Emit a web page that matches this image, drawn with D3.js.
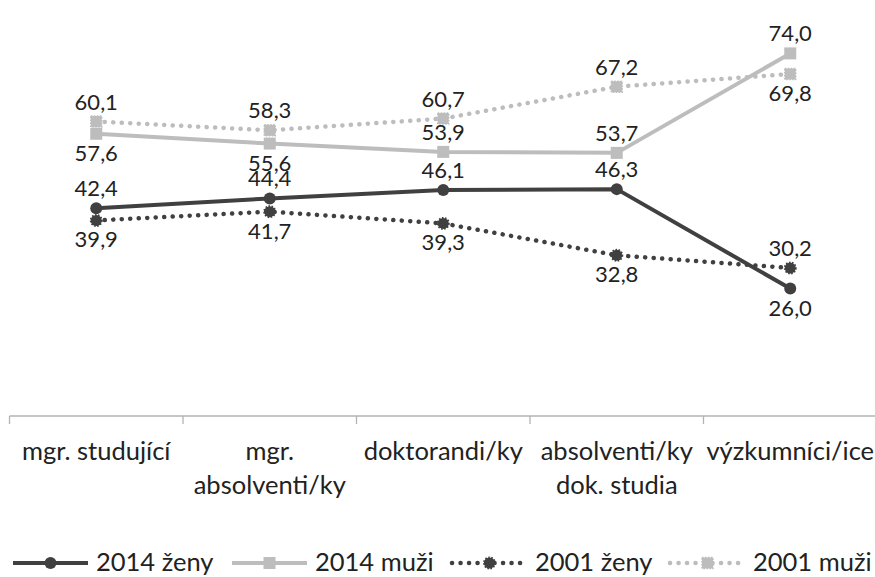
<!DOCTYPE html>
<html>
<head>
<meta charset="utf-8">
<script src="https://cdn.jsdelivr.net/npm/d3@7"></script>
<style>
  html, body { margin: 0; padding: 0; background: #ffffff; }
  svg { display: block; }
  text { font-family: Lato, "Open Sans", sans-serif; fill: #222222; }
</style>
</head>
<body>
<svg id="chart" width="875" height="577"></svg>
<script>
// ---- data ----
const categories = ["mgr. studující", "mgr. absolventi/ky", "doktorandi/ky", "absolventi/ky dok. studia", "výzkumníci/ice"];
const categoryLines = [["mgr. studující"], ["mgr.", "absolventi/ky"], ["doktorandi/ky"], ["absolventi/ky", "dok. studia"], ["výzkumníci/ice"]];
const seriesNames = ["2014 ženy", "2014 muži", "2001 ženy", "2001 muži"];
const zeny2014 = [42.4, 44.4, 46.1, 46.3, 26.0];
const muzi2014 = [57.6, 55.6, 53.9, 53.7, 74.0];
const zeny2001 = [39.9, 41.7, 39.3, 32.8, 30.2];
const muzi2001 = [60.1, 58.3, 60.7, 67.2, 69.8];
const labelSides = [
  ["above", "above", "above", "above", "below"],
  ["below", "below", "above", "above", "above"],
  ["below", "below", "below", "below", "above"],
  ["above", "above", "above", "above", "below"]
];

const DARK = "#404040", LIGHT = "#bdbdbd";
const series = [
  { name: seriesNames[0], values: zeny2014, color: DARK,  dotted: false, marker: "circle" },
  { name: seriesNames[1], values: muzi2014, color: LIGHT, dotted: false, marker: "square" },
  { name: seriesNames[2], values: zeny2001, color: DARK,  dotted: true,  marker: "circle" },
  { name: seriesNames[3], values: muzi2001, color: LIGHT, dotted: true,  marker: "square" }
];
series.forEach((s, i) => s.sides = labelSides[i]);

const svg = d3.select("#chart");
const x = d3.scaleBand().domain(categories).range([9.5, 877]).paddingInner(0).paddingOuter(0);
const y = d3.scaleLinear().domain([0, 80]).range([416, 24]);
const cx = c => x(c) + x.bandwidth() / 2;
const fmt = v => d3.format(".1f")(v).replace(".", ",");

// ---- axis ----
const axisG = svg.append("g");
axisG.append("line")
  .attr("x1", x.range()[0]).attr("x2", x.range()[1])
  .attr("y1", y(0)).attr("y2", y(0))
  .attr("stroke", "#b3b3b3").attr("stroke-width", 1.3);
const boundaries = categories.map(c => x(c)).concat([x.range()[1]]);
axisG.selectAll("line.tick").data(boundaries).enter().append("line")
  .attr("class", "tick")
  .attr("x1", d => d).attr("x2", d => d)
  .attr("y1", y(0)).attr("y2", y(0) + 8)
  .attr("stroke", "#b3b3b3").attr("stroke-width", 1.3);
const catLabels = axisG.selectAll("text.cat").data(categories).enter().append("text")
  .attr("class", "cat")
  .attr("x", d => cx(d))
  .attr("y", 460)
  .attr("text-anchor", "middle")
  .style("font-size", "25.5px");
catLabels.each(function(d, i) {
  const t = d3.select(this);
  categoryLines[i].forEach((ln, j) => {
    t.append("tspan").attr("x", cx(d)).attr("dy", j === 0 ? 0 : 34).text(ln);
  });
});

// ---- lines & markers ----
const lineGen = d3.line().x((d, i) => cx(categories[i])).y(d => y(d));

function drawMarker(g, s, px, py, size) {
  if (s.marker === "circle") {
    const m = g.append("circle").attr("cx", px).attr("cy", py).attr("r", size / 2).attr("fill", s.color);
    if (s.dotted) m.attr("stroke", s.color).attr("stroke-width", 2).attr("stroke-dasharray", "1.5 1.5");
  } else {
    const m = g.append("rect").attr("x", px - size / 2).attr("y", py - size / 2)
      .attr("width", size).attr("height", size).attr("fill", s.color);
    if (s.dotted) m.attr("stroke", s.color).attr("stroke-width", 1.5).attr("stroke-dasharray", "1.5 1.5");
  }
}

series.forEach(s => {
  const g = svg.append("g");
  const path = g.append("path").datum(s.values)
    .attr("d", lineGen)
    .attr("fill", "none")
    .attr("stroke", s.color)
    .attr("stroke-width", s.dotted ? 4.5 : 4)
    .attr("stroke-linejoin", "round");
  if (s.dotted) path.attr("stroke-dasharray", "0.1 8.4").attr("stroke-linecap", "round");
  s.values.forEach((v, i) => drawMarker(g, s, cx(categories[i]), y(v), s.dotted ? 11 : 12));
});

// ---- data labels ----
series.forEach(s => {
  svg.append("g").selectAll("text").data(s.values).enter().append("text")
    .attr("x", (d, i) => cx(categories[i]))
    .attr("y", (d, i) => s.sides[i] === "above" ? y(d) - 12 : y(d) + 27)
    .attr("text-anchor", "middle")
    .style("font-size", "22px")
    .text(d => fmt(d));
});

// ---- legend ----
const legendStarts = [13, 232, 452, 670];
const legend = svg.append("g");
series.forEach((s, i) => {
  const lx = legendStarts[i], ly = 563;
  const g = legend.append("g");
  const ln = g.append("line").attr("x1", lx).attr("x2", lx + 75).attr("y1", ly).attr("y2", ly)
    .attr("stroke", s.color).attr("stroke-width", s.dotted ? 4.5 : 4);
  if (s.dotted) ln.attr("stroke-dasharray", "0.1 8.4").attr("stroke-linecap", "round");
  drawMarker(g, s, lx + 37.5, ly, s.dotted ? 11 : 12);
  g.append("text").attr("x", lx + 83).attr("y", 571).style("font-size", "25.5px").text(s.name);
});
</script>
</body>
</html>
